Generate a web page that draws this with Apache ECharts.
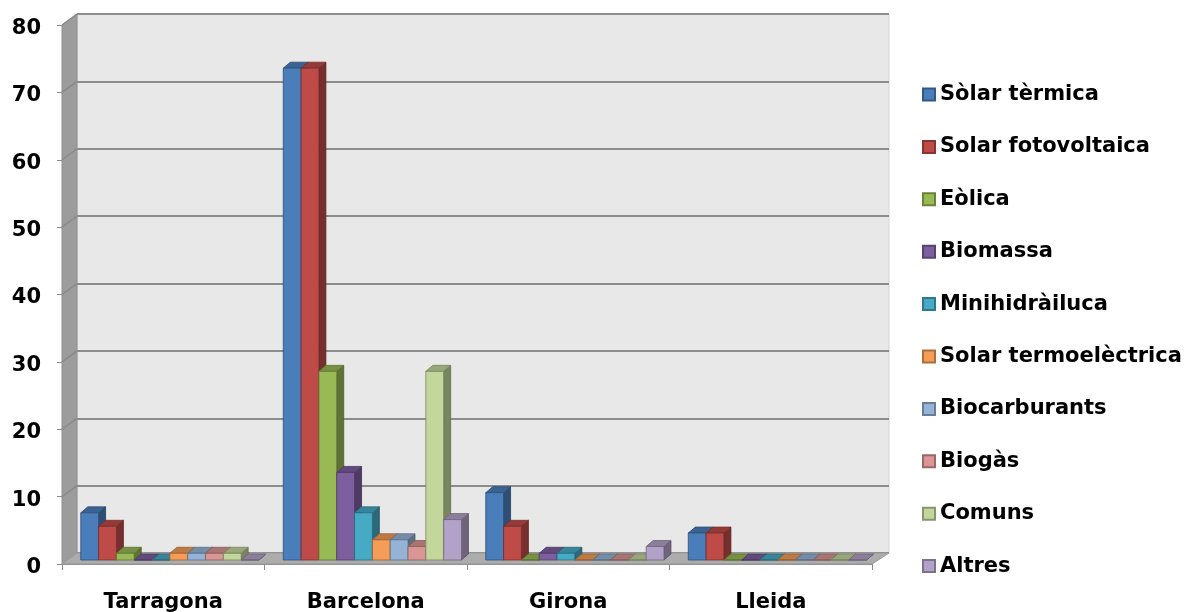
<!DOCTYPE html>
<html>
<head>
<meta charset="utf-8">
<script src="https://cdn.jsdelivr.net/npm/echarts@6/dist/echarts.min.js"></script>
<style>
  html, body { margin: 0; padding: 0; background: #ffffff; }
  #chart { width: 1185px; height: 612px; }
</style>
</head>
<body>
<div id="chart"></div>
<script>
// Installacions d'energies renovables per província
const categories = ['Tarragona', 'Barcelona', 'Girona', 'Lleida'];

const seriesNames = [
  'Sòlar tèrmica', 'Solar fotovoltaica', 'Eòlica', 'Biomassa', 'Minihidràiluca',
  'Solar termoelèctrica', 'Biocarburants', 'Biogàs', 'Comuns', 'Altres'
];

const solarTermica        = [7, 73, 10, 4];
const solarFotovoltaica   = [5, 73, 5, 4];
const eolica              = [1, 28, 0, 0];
const biomassa            = [0, 13, 1, 0];
const minihidraulica      = [0, 7, 1, 0];
const solarTermoelectrica = [1, 3, 0, 0];
const biocarburants       = [1, 3, 0, 0];
const biogas              = [1, 2, 0, 0];
const comuns              = [1, 28, 0, 0];
const altres              = [0, 6, 2, 0];

const seriesValues = [
  solarTermica, solarFotovoltaica, eolica, biomassa, minihidraulica,
  solarTermoelectrica, biocarburants, biogas, comuns, altres
];

const seriesColors = [
  '#4A7EBB', '#BE4B48', '#98B954', '#7D5FA0', '#46AAC5',
  '#F59D56', '#95B3D7', '#D99694', '#C3D69B', '#B3A2C7'
];

const yMin = 0, yMax = 80, yStep = 10;

// Layout of the pseudo-3D box: front plane, bar plane and back wall
const FRONT = { left: 62, top: 25, width: 810, height: 539 };
const DEPTH = { dx: 15, dy: 11 };          // front edge -> back wall
const BAR_SHIFT = { dx: 5, dy: 4 };        // front edge -> bar front faces
const BAR_DEPTH = { dx: 7, dy: 6 };        // thickness of each bar
const GROUP_OFFSET = 0.068;                // start of bar cluster inside a category
const BAR_FRAC = 0.088;                    // width of one bar as a fraction of a category

const FONT = "'DejaVu Sans', Verdana, sans-serif";
const FONT_SIZE = 21;

function shade(hex, f) {
  const n = parseInt(hex.slice(1), 16);
  const r = Math.round(((n >> 16) & 255) * f);
  const g = Math.round(((n >> 8) & 255) * f);
  const b = Math.round((n & 255) * f);
  return 'rgb(' + r + ',' + g + ',' + b + ')';
}

function renderBar3d(params, api) {
  const i = params.seriesIndex;
  const color = seriesColors[i];
  const cat = api.value(0);
  const top = api.coord([cat, api.value(1)]);
  const base = api.coord([cat, 0]);
  const band = api.size([1, 0])[0];
  const w = band * BAR_FRAC;
  const x0 = top[0] - band / 2 + band * GROUP_OFFSET + i * w;
  const yt = top[1], yb = base[1];
  const dx = BAR_DEPTH.dx, dy = BAR_DEPTH.dy;
  const edge = shade(color, 0.62);
  return {
    type: 'group',
    children: [
      {
        type: 'polygon',
        shape: { points: [[x0 + w, yt], [x0 + w + dx, yt - dy], [x0 + w + dx, yb - dy], [x0 + w, yb]] },
        style: { fill: shade(color, 0.62), stroke: shade(color, 0.5), lineWidth: 0.8 }
      },
      {
        type: 'polygon',
        shape: { points: [[x0, yt], [x0 + dx, yt - dy], [x0 + w + dx, yt - dy], [x0 + w, yt]] },
        style: { fill: shade(color, 0.78), stroke: edge, lineWidth: 0.8 }
      },
      {
        type: 'rect',
        shape: { x: x0, y: yt, width: w, height: yb - yt },
        style: { fill: color, stroke: edge, lineWidth: 0.8 }
      }
    ]
  };
}

const chart = echarts.init(document.getElementById('chart'), null, { renderer: 'canvas' });

const series = seriesNames.map((name, i) => ({
  name: name,
  type: 'custom',
  xAxisIndex: 2,
  yAxisIndex: 2,
  z: 5,
  renderItem: renderBar3d,
  itemStyle: { color: seriesColors[i], borderColor: shade(seriesColors[i], 0.7), borderWidth: 1 },
  encode: { x: 0, y: 1 },
  data: seriesValues[i].map((v, c) => [c, v])
}));

const option = {
  animation: false,
  backgroundColor: '#ffffff',
  grid: [
    // front plane: axis labels and ticks
    { left: FRONT.left, top: FRONT.top, width: FRONT.width, height: FRONT.height, outerBoundsMode: 'none' },
    // back wall: background and gridlines
    {
      left: FRONT.left + DEPTH.dx, top: FRONT.top - DEPTH.dy, width: FRONT.width + 2, height: FRONT.height,
      show: true, backgroundColor: '#e8e8e8', borderColor: '#d2d2d2', borderWidth: 1, outerBoundsMode: 'none'
    },
    // bar plane
    { left: FRONT.left + BAR_SHIFT.dx, top: FRONT.top - BAR_SHIFT.dy, width: FRONT.width, height: FRONT.height, outerBoundsMode: 'none' }
  ],
  xAxis: [
    {
      type: 'category', gridIndex: 0, data: categories, boundaryGap: true,
      axisLine: { show: true, lineStyle: { color: '#8a8a8a', width: 1 } },
      axisTick: { show: true, alignWithLabel: false, length: 6, lineStyle: { color: '#8a8a8a' } },
      axisLabel: { fontFamily: FONT, fontWeight: 'bold', fontSize: FONT_SIZE, color: '#000', margin: 28 },
      splitLine: { show: false }
    },
    {
      type: 'category', gridIndex: 1, data: categories,
      axisLine: { show: false }, axisTick: { show: false }, axisLabel: { show: false }, splitLine: { show: false }
    },
    {
      type: 'category', gridIndex: 2, data: categories,
      axisLine: { show: false }, axisTick: { show: false }, axisLabel: { show: false }, splitLine: { show: false }
    }
  ],
  yAxis: [
    {
      type: 'value', gridIndex: 0, min: yMin, max: yMax, interval: yStep,
      axisLine: { show: true, lineStyle: { color: '#8a8a8a' } },
      axisTick: { show: true, length: 5, lineStyle: { color: '#8a8a8a' } },
      axisLabel: {
        fontFamily: FONT, fontWeight: 'bold', fontSize: FONT_SIZE, color: '#000', margin: 21,
        verticalAlign: 'top', lineHeight: 21, padding: [-7, 0, 0, 0]
      },
      splitLine: { show: false }
    },
    {
      type: 'value', gridIndex: 1, min: yMin, max: yMax, interval: yStep,
      axisLine: { show: false }, axisTick: { show: false }, axisLabel: { show: false },
      splitLine: { show: true, lineStyle: { color: '#8c8c8c', width: 2 } }
    },
    {
      type: 'value', gridIndex: 2, min: yMin, max: yMax, interval: yStep,
      axisLine: { show: false }, axisTick: { show: false }, axisLabel: { show: false }, splitLine: { show: false }
    }
  ],
  legend: {
    orient: 'vertical',
    left: 922,
    top: 84,
    padding: 0,
    icon: 'rect',
    itemWidth: 12,
    itemHeight: 12,
    itemGap: 31.4,
    textStyle: { fontFamily: FONT, fontWeight: 'bold', fontSize: FONT_SIZE, lineHeight: 21, color: '#000' },
    data: seriesNames
  },
  series: series
};

chart.setOption(option);

// Side wall and floor of the box, placed from the axis scales
function walls() {
  const L = FRONT.left, R = FRONT.left + FRONT.width;
  const yf = v => chart.convertToPixel({ yAxisIndex: 0 }, v);
  const yb = v => chart.convertToPixel({ yAxisIndex: 1 }, v);
  const fTop = yf(yMax), fBot = yf(yMin);
  const bTop = yb(yMax), bBot = yb(yMin);
  const dx = DEPTH.dx;
  const els = [];
  els.push({
    type: 'polygon', z: 1,
    shape: { points: [[L, fTop], [L + dx, bTop], [L + dx, bBot], [L, fBot]] },
    style: { fill: '#9c9c9c', stroke: '#8e8e8e', lineWidth: 1 }
  });
  for (let v = yMin + yStep; v <= yMax; v += yStep) {
    els.push({
      type: 'line', z: 1,
      shape: { x1: L, y1: yf(v), x2: L + dx, y2: yb(v) },
      style: { stroke: '#8a8a8a', lineWidth: 1.5 }
    });
  }
  els.push({
    type: 'polygon', z: 1,
    shape: { points: [[L, fBot], [L + dx, bBot], [R + dx + 2, bBot], [R, fBot]] },
    style: { fill: '#acacac', stroke: '#999999', lineWidth: 1 }
  });
  chart.setOption({ graphic: { elements: els } });
}
walls();
</script>
</body>
</html>
